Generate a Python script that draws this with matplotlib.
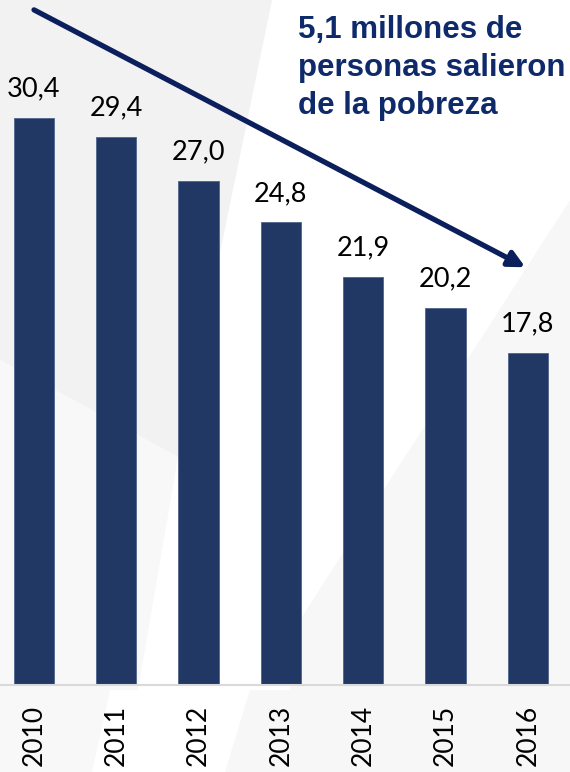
import matplotlib
matplotlib.use("Agg")
import matplotlib.pyplot as plt
from matplotlib.patches import Polygon

# datos (millones de personas en pobreza)
years = ["2010", "2011", "2012", "2013", "2014", "2015", "2016"]
values = [30.4, 29.4, 27.0, 24.8, 21.9, 20.2, 17.8]
labels = ["30,4", "29,4", "27,0", "24,8", "21,9", "20,2", "17,8"]
note_lines = ["5,1 millones de", "personas salieron", "de la pobreza"]

bar_color = "#213864"
navy = "#0f2a6b"
arrow_color = "#0b1f5c"

fig = plt.figure(figsize=(5.7, 7.72), dpi=100)

# fondo con formas grises suaves (estilo diapositiva)
bg = fig.add_axes([0, 0, 1, 1], zorder=-1)
bg.set_xlim(0, 570)
bg.set_ylim(772, 0)
bg.axis("off")
shapes = [
    ([(0, 0), (272, 0), (178, 457), (0, 360)], "#f2f2f2"),
    ([(0, 360), (178, 457), (138, 690), (110, 690), (92, 772), (0, 772)], "#f8f8f8"),
    ([(570, 200), (300, 620), (290, 690), (250, 690), (225, 772), (570, 772)], "#f7f7f7"),
]
for pts, c in shapes:
    bg.add_patch(Polygon(pts, closed=True, facecolor=c, edgecolor="none"))

ax = fig.add_axes([0, 87 / 772, 1, 685 / 772])
ax.patch.set_alpha(0)
x = range(len(years))
bars = ax.bar(x, values, width=0.49, color=bar_color, edgecolor="#4f638c", linewidth=0.6)

ax.set_xlim(-34 / 82.3, (570 - 34) / 82.3)
ax.set_ylim(0, 685 / 18.65)

for b, lab in zip(bars, labels):
    ax.annotate(lab, (b.get_x() + b.get_width() / 2, b.get_height()),
                xytext=(0, 12), textcoords="offset points",
                ha="center", va="bottom", fontsize=19.5, family="Lato", color="black")

ax.set_xticks(list(x))
ax.set_xticklabels(years, rotation=90, fontsize=19, family="Lato")
ax.tick_params(axis="x", length=0, pad=14)
ax.set_yticks([])
for s in ["top", "left", "right"]:
    ax.spines[s].set_visible(False)
ax.spines["bottom"].set_color("#d9d9d9")
ax.spines["bottom"].set_linewidth(1.5)

# flecha de tendencia
ax.annotate("", xy=(5.97, 22.4), xytext=(0.0, 36.2),
            arrowprops=dict(arrowstyle="-|>", color=arrow_color, lw=3.8,
                            mutation_scale=24, shrinkA=0, shrinkB=0))

for i, line in enumerate(note_lines):
    fig.text(298 / 570, 1 - (38 + 38 * i) / 772, line, fontsize=22.5,
             fontweight="bold", family="Liberation Sans", color=navy,
             ha="left", va="baseline")

fig.savefig("out.png", dpi=100)
